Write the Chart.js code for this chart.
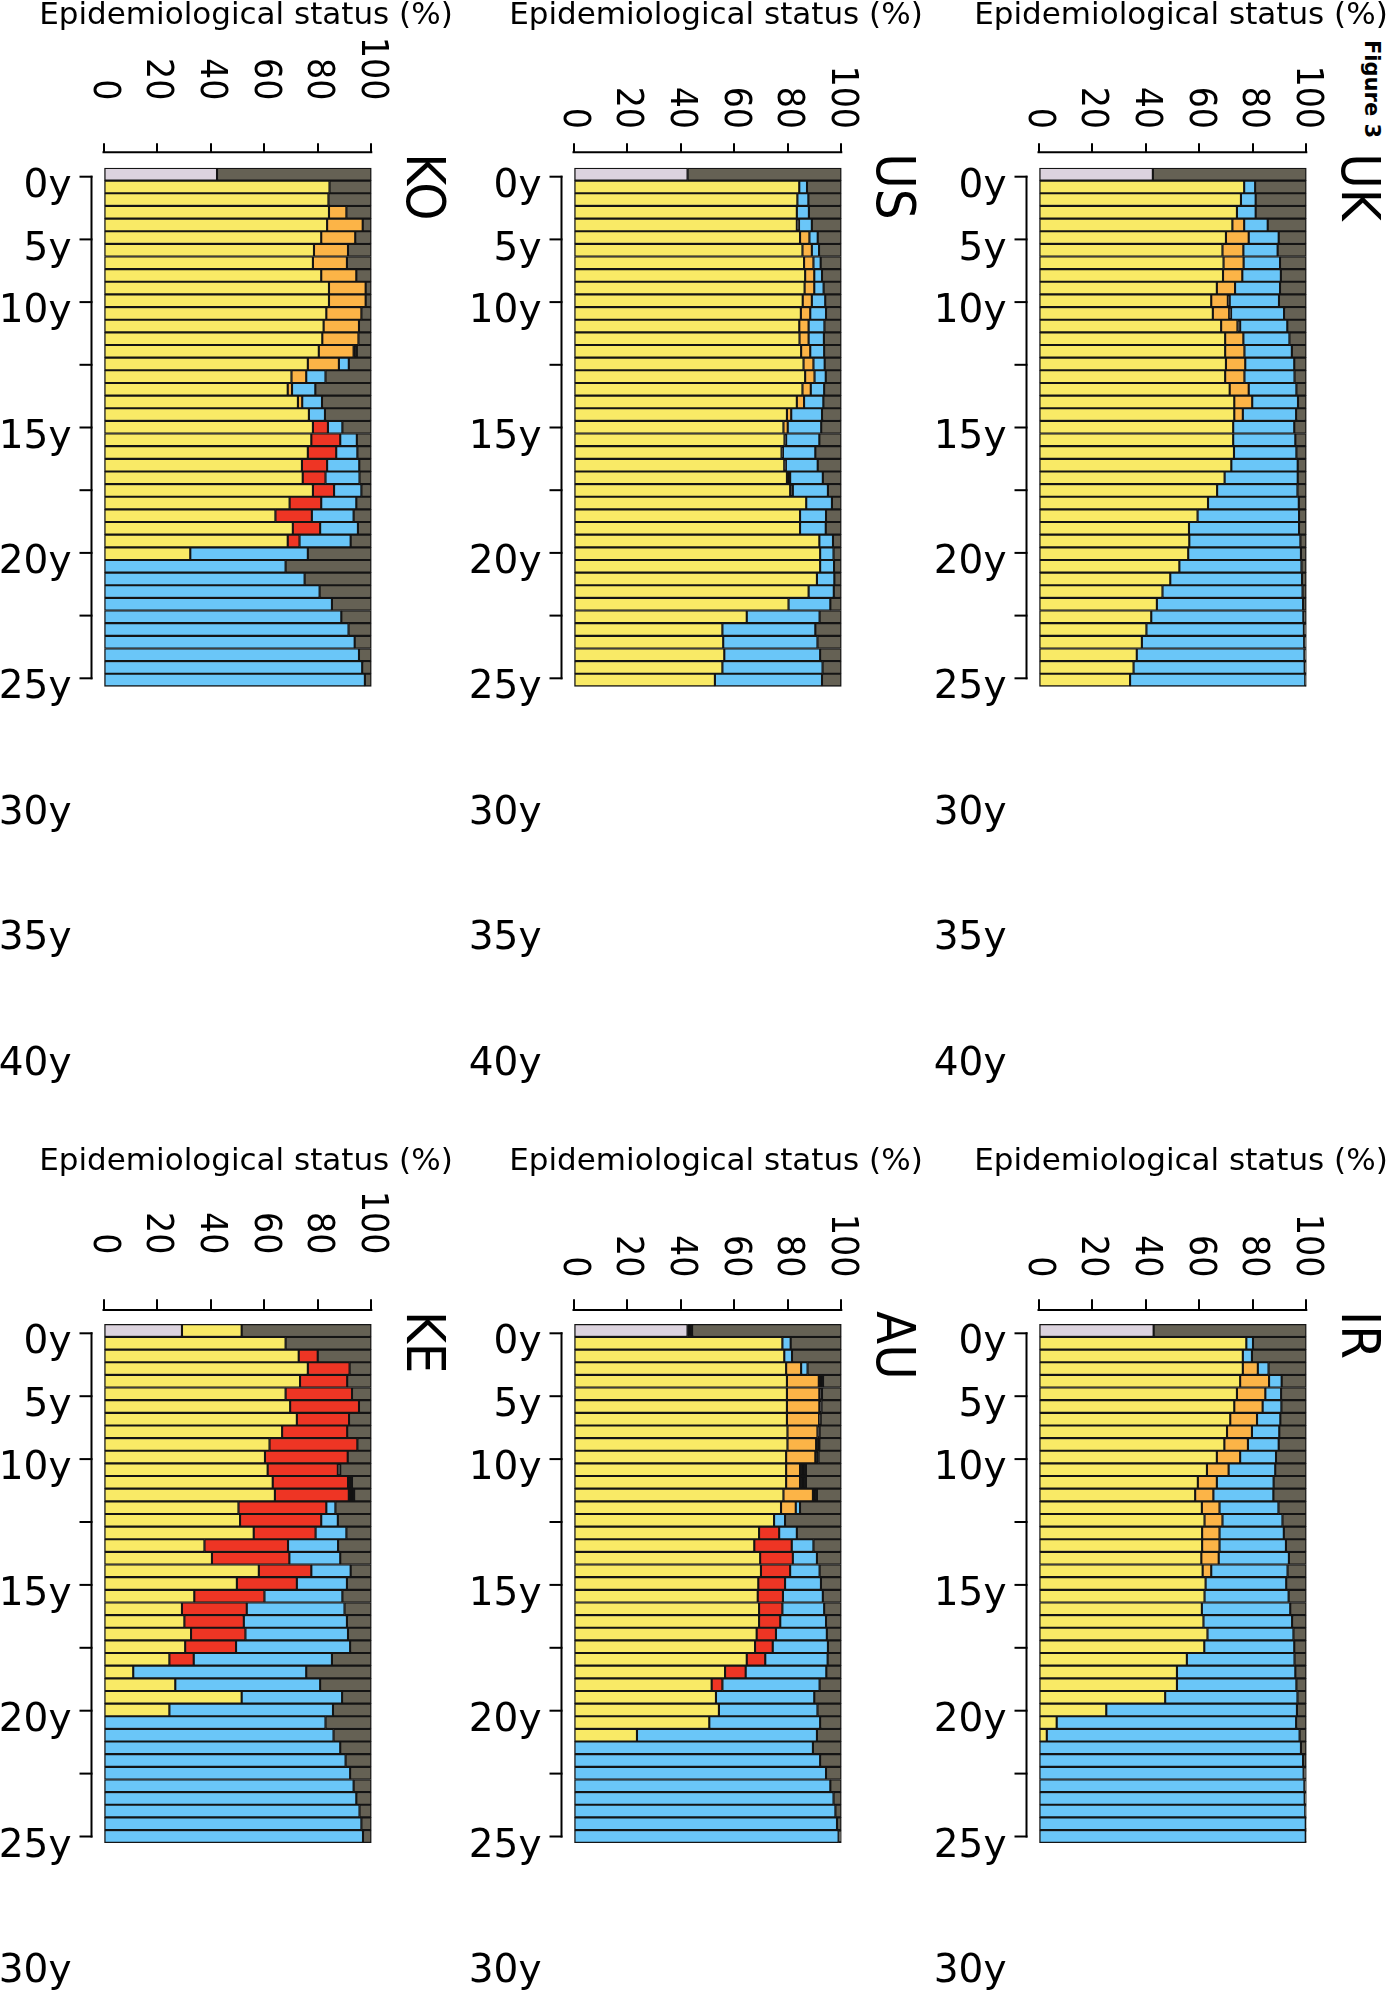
<!DOCTYPE html>
<html>
<head>
<meta charset="utf-8">
<script src="https://cdn.jsdelivr.net/npm/chart.js@4.4.1/dist/chart.umd.min.js"></script>
<style>
html,body{margin:0;padding:0;background:#fff;}
#page{position:relative;width:1400px;height:2000px;overflow:hidden;background:#fff;}
#page canvas{position:absolute;}
#fig{position:absolute;left:1359px;top:40px;writing-mode:vertical-rl;font-family:"DejaVu Sans",sans-serif;font-weight:bold;font-size:21px;line-height:26px;color:#000;}
</style>
</head>
<body>
<div id="page"><div id="fig">Figure 3</div></div>
<script>
// ---------------- DATA ----------------
const panelNames = ['KO', 'US', 'UK', 'KE', 'AU', 'IR'];
const xTickValues = [0, 20, 40, 60, 80, 100];
const ageTickPos = [0, 1, 2, 3, 4, 5, 6, 7, 8, 10, 12, 14];
const ageTickLabels = ['0y', '5y', '10y', '', '15y', '', '20y', '', '25y', '30y', '35y', '40y'];
const rowIndex = [0,1,2,3,4,5,6,7,8,9,10,11,12,13,14,15,16,17,18,19,20,21,22,23,24,25,26,27,28,29,30,31,32,33,34,35,36,37,38,39,40];
// header row (index 0) lavender share per panel, same order as panelNames
const lavenderHeader = [42.4, 42.6, 42.7, 29.3, 42.6, 43.0];

const KO_yellow = [0, 84.4,84.0,84.2,83.5,81.3,78.6,78.2,81.3,84.2,84.2, 83.2,82.2,81.7,80.4,76.3,70.2,68.8,72.6,76.7,78.2, 77.6,76.3,74.1,74.4,78.2,69.5,64.2,70.7,68.8,32.4, 0,0,0,0,0,0,0,0,0,0];
const KO_orange = [0, 0,0,6.5,13.3,12.7,12.7,12.7,13.1,13.7,13.7, 13.1,13.2,13.5,13.0,11.6,5.5,1.6,1.6,0,0, 0,0,0,0,0,0,0,0,0,0, 0,0,0,0,0,0,0,0,0,0];
const KO_red    = [0, 0,0,0,0,0,0,0,0,0,0, 0,0,0,0,0,0,0,0,0,5.6, 10.8,10.6,9.4,8.5,7.9,11.8,13.6,10.2,4.4,0, 0,0,0,0,0,0,0,0,0,0];
const KO_black  = [0, 0,0,0,0,0,0,0,0,0,0, 0,0,0,1.2,0,0,0,0,0,0, 0,0,0,0,0,0,0,0,0,0, 0,0,0,0,0,0,0,0,0,0];
const KO_blue   = [0, 0,0,0,0,0,0,0,0,0,0, 0,0,0,0,3.7,7.2,8.7,7.4,6.0,5.4, 6.2,7.9,12.0,12.7,10.2,13.1,15.6,14.1,19.1,43.9, 68.0,75.1,80.7,85.3,88.8,91.5,93.8,95.4,96.6,97.6];
const KO_gray   = [57.6, 15.6,16.0,9.3,3.2,6.0,8.7,9.1,5.6,2.1,2.1, 3.7,4.6,4.8,5.4,8.4,17.1,20.9,18.4,17.3,10.8, 5.4,5.2,4.5,4.4,3.7,5.6,6.6,5.0,7.7,23.7, 32.0,24.9,19.3,14.7,11.2,8.5,6.2,4.6,3.4,2.4];

const US_yellow = [0, 84.3,83.6,83.4,83.4,84.6,85.5,86.1,86.5,86.3,85.6, 84.9,84.3,84.4,85.0,85.9,86.5,85.5,83.4,79.7,78.4, 78.8,77.7,78.7,79.7,80.9,86.9,84.6,84.6,91.8,92.1, 92.1,90.9,87.8,80.3,64.7,55.6,55.9,56.3,55.6,52.8];
const US_orange = [0, 0,0,0,0,3.5,3.5,3.5,3.4,3.6,3.4, 3.5,3.5,3.4,3.4,3.7,3.5,3.1,2.7,1.6,1.6, 0,0,0,0,0,0,0,0,0,0, 0,0,0,0,0,0,0,0,0,0];
const US_red    = [0, 0,0,0,0,0,0,0,0,0,0, 0,0,0,0,0,0,0,0,0,0, 0,0,0,0,0,0,0,0,0,0, 0,0,0,0,0,0,0,0,0,0];
const US_black  = [0, 0,0,0,0.8,0,0,0,0,0,0, 0,0,0,0,0,0,0,0,0,0, 0.6,0.5,0.6,1.2,1.0,0,0,0,0,0, 0,0,0,0,0,0,0,0,0,0];
const US_blue   = [0, 2.9,4.1,4.5,4.8,3.1,2.7,2.7,2.9,3.5,5.0, 5.9,5.9,5.7,5.2,4.2,4.2,5.0,7.2,11.5,12.5, 12.4,12.1,11.9,12.2,13.1,9.6,9.7,9.6,5.1,5.0, 5.2,6.5,9.4,15.6,27.2,34.7,35.2,35.8,37.4,40.0];
const US_gray   = [57.4, 12.8,12.3,12.1,11.0,8.8,8.3,7.7,7.2,6.6,6.0, 5.7,6.3,6.5,6.4,6.2,5.8,6.4,6.7,7.2,7.5, 8.2,9.7,8.8,6.9,5.0,3.5,5.7,5.8,3.1,2.9, 2.7,2.6,2.8,4.1,8.1,9.7,8.9,7.9,7.0,7.2];

const UK_yellow = [0, 76.8,75.6,74.1,72.4,70.0,68.7,69.1,68.9,66.6,64.5, 65.1,68.2,69.7,69.7,70.0,69.7,71.4,73.1,73.1,72.7, 72.7,73.0,72.0,69.5,66.7,63.3,59.4,56.2,56.3,55.9, 52.6,49.2,46.3,44.2,42.1,40.3,38.6,36.7,35.5,34.2];
const UK_orange = [0, 0,0,0,4.4,8.5,7.8,7.5,7.2,6.8,6.2, 6.1,6.1,6.8,7.2,7.2,7.2,7.1,6.7,3.2,0, 0,0,0,0,0,0,0,0,0,0, 0,0,0,0,0,0,0,0,0,0];
const UK_red    = [0, 0,0,0,0,0,0,0,0,0,0, 0,0,0,0,0,0,0,0,0,0, 0,0,0,0,0,0,0,0,0,0, 0,0,0,0,0,0,0,0,0,0];
const UK_black  = [0, 0,0,0,0,0,0,0,0,0,0.7, 0.7,1.0,0,0,0,0,0,0,0,0, 0,0,0,0,0,0,0,0,0,0, 0,0,0,0,0,0,0,0,0,0];
const UK_blue   = [0, 4.1,5.5,7.0,8.8,11.2,12.8,13.6,14.4,16.8,18.4, 19.8,17.6,17.2,17.7,18.3,18.7,17.8,17.1,19.9,22.8, 23.2,23.3,24.8,27.3,30.0,33.9,37.9,41.1,41.5,42.1, 45.6,49.2,52.3,54.6,56.8,58.8,60.6,62.6,63.9,65.4];
const UK_gray   = [57.3, 19.1,18.9,18.9,14.4,10.3,10.7,9.8,9.5,9.8,10.2, 8.3,7.1,6.3,5.4,4.5,4.4,3.7,3.1,3.8,4.5, 4.1,3.7,3.2,3.2,3.3,2.8,2.7,2.7,2.2,2.0, 1.8,1.6,1.4,1.2,1.1,0.9,0.8,0.7,0.6,0.4];

const KE_yellow = [22.3, 68.0,72.9,76.3,73.4,68.0,69.7,72.2,66.7,62.0,60.3, 61.3,63.2,64.0,50.4,51.0,56.1,37.7,40.5,58.0,49.8, 33.9,29.3,30.2,32.7,30.5,24.6,11.1,26.8,51.6,24.6, 0,0,0,0,0,0,0,0,0,0];
const KE_orange = [0, 0,0,0,0,0,0,0,0,0,0, 0,0,0,0,0,0,0,0,0,0, 0,0,0,0,0,0,0,0,0,0, 0,0,0,0,0,0,0,0,0,0];
const KE_red    = [0, 0,7.1,15.6,17.6,24.8,25.7,19.5,24.3,32.8,30.9, 26.2,28.1,27.6,32.8,30.3,23.1,31.2,28.9,19.6,22.4, 26.2,24.2,22.2,20.3,19.0,9.1,0,0,0,0, 0,0,0,0,0,0,0,0,0,0];
const KE_black  = [0, 0,0,0,0,0,0,0,0,0,0, 0.9,1.5,2.0,0,0,0,0,0,0,0, 0,0,0,0,0,0,0,0,0,0, 0,0,0,0,0,0,0,0,0,0];
const KE_blue   = [0, 0,0,0,0,0,0,0,0,0,0, 0,0,0,3.4,6.2,11.5,18.7,19.0,14.7,18.7, 29.1,36.5,38.5,38.3,42.6,51.6,64.6,54.1,37.5,61.1, 82.9,85.9,88.4,90.4,92.1,93.4,94.4,95.6,96.3,96.9];
const KE_gray   = [48.4, 32.0,20.0,8.1,9.0,7.2,4.6,8.3,9.0,5.2,8.8, 11.6,7.2,6.4,13.4,12.5,9.3,12.4,11.6,7.7,9.1, 10.8,10.0,9.1,8.7,7.9,14.7,24.3,19.1,10.9,14.3, 17.1,14.1,11.6,9.6,7.9,6.6,5.6,4.4,3.7,3.1];

const AU_yellow = [0, 78.0,78.7,79.4,79.7,79.7,79.7,79.7,79.9,79.9,79.4, 79.4,79.4,78.4,77.5,74.9,69.3,67.5,69.7,70.0,69.0, 68.8,69.3,69.3,68.4,67.8,64.7,56.6,51.6,53.2,54.3, 50.7,23.7,0,0,0,0,0,0,0,0];
const AU_orange = [0, 0,0,5.6,11.9,12.1,12.1,12.0,11.2,10.7,10.9, 5.2,5.2,11.0,5.5,0,0,0,0,0,0, 0,0,0,0,0,0,0,0,0,0, 0,0,0,0,0,0,0,0,0,0];
const AU_red    = [0, 0,0,0,0,0,0,0,0,0,0, 0,0,0,0,0,7.5,14.0,12.2,10.9,10.0, 9.4,8.7,7.9,7.2,6.6,6.9,7.7,4.0,0,0, 0,0,0,0,0,0,0,0,0,0];
const AU_black  = [1.7, 0,0,0,1.6,1.0,0.8,0.6,0.8,1.2,1.2, 2.2,2.2,1.5,0,0,0,0,0,0,0, 0,0,0,0,0,0,0,0,0,0, 0,0,0,0,0,0,0,0,0,0];
const AU_blue   = [0, 3.1,2.9,2.4,0,0,0,0,0,0,0, 0,0,0,1.6,4.1,6.6,8.1,9.0,11.0,13.4, 14.9,15.6,17.1,19.0,20.6,23.3,30.1,36.3,36.7,36.8, 41.4,67.2,89.4,92.1,94.3,95.9,97.1,97.8,98.4,99.0];
const AU_gray   = [55.7, 18.9,18.4,12.6,6.8,7.2,7.4,7.7,8.1,8.2,8.5, 13.2,13.2,9.1,15.4,21.0,16.6,10.4,9.1,8.1,7.6, 6.9,6.4,5.7,5.4,5.0,5.1,5.6,8.1,10.1,8.9, 7.9,9.1,10.6,7.9,5.7,4.1,2.9,2.2,1.6,1.0];

const IR_yellow = [0, 77.6,76.3,76.3,75.3,74.1,73.1,71.6,70.4,69.4,66.6, 62.9,59.5,58.5,61.0,62.0,61.1,61.1,60.8,61.3,62.4, 62.0,61.0,61.6,63.1,61.9,55.4,51.7,51.7,47.3,25.3, 6.8,3.1,0,0,0,0,0,0,0,0];
const IR_orange = [0, 0,0,5.6,10.8,10.6,10.6,10.0,9.3,8.8,8.7, 8.1,7.1,6.8,6.6,6.7,6.5,6.5,6.5,3.2,0, 0,0,0,0,0,0,0,0,0,0, 0,0,0,0,0,0,0,0,0,0];
const IR_red    = [0, 0,0,0,0,0,0,0,0,0,0, 0,0,0,0,0,0,0,0,0,0, 0,0,0,0,0,0,0,0,0,0, 0,0,0,0,0,0,0,0,0,0];
const IR_black  = [0, 0,0,0,0,0,0,0,0,0,0, 0,0,0,0,0,0,0,0,0,0, 0,0,0,0,0,0,0,0,0,0, 0,0,0,0,0,0,0,0,0,0];
const IR_blue   = [0, 2.5,3.4,4.0,4.7,5.9,7.0,8.7,10.2,11.5,13.4, 17.4,21.2,22.4,22.0,22.4,24.0,24.8,26.2,28.5,30.1, 31.4,33.0,33.1,32.1,33.6,40.2,44.2,44.6,49.4,71.2, 89.4,94.4,98.0,98.8,99.0,99.3,99.4,99.6,99.8,99.8];
const IR_gray   = [57.0, 19.9,20.3,14.1,9.2,9.4,9.3,9.7,10.1,10.3,11.3, 11.6,12.2,12.3,10.4,8.9,8.4,7.6,6.5,7.0,7.5, 6.6,6.0,5.3,4.8,4.5,4.4,4.1,3.7,3.3,3.5, 3.8,2.5,2.0,1.2,1.0,0.7,0.6,0.4,0.2,0.2];

// ---------------- STYLE / LAYOUT ----------------
const COLORS = {lavender:'#dcd3de', yellow:'#f9ea66', orange:'#fcb447', red:'#ee3524', black:'#111111', blue:'#6ac6f8', gray:'#656154'};
const COL_LEFT = [0, 470, 935];
const CANVAS_W = 465;
const FRAME_LEFT = 103.5, FRAME_W = 267.8, AXIS_GAP = 11;
const PAD_RIGHT = -27, TITLE_SIZE = 54, TITLE_PAD = 44, XTITLE_SIZE = 31;
// gap between tick marks and the rotated 0-100 labels, per panel (KO, US, UK, KE, AU, IR)
const X_LABEL_GAP = [43, 14.3, 14.3, 45, 22, 22];
const ROW_GEOM = [
  {top:0,    h:1100, axisY:153.3, frameTop:168,   frameBot:686.4, age0:176.7, ageStep:62.7, tickLen:10,   titlePad:0,  nAgeTicks:12},
  {top:1130, h:870,  axisY:181,   frameTop:194.3, frameBot:712.7, age0:203.3, ageStep:62.9, tickLen:11.7, titlePad:16, nAgeTicks:10}
];
const FONT_H = '"DejaVu Sans", sans-serif';
const FONT_C = '"DejaVu Sans Condensed", "DejaVu Sans", sans-serif';

const series = {
  KO:{yellow:KO_yellow, orange:KO_orange, red:KO_red, black:KO_black, blue:KO_blue, gray:KO_gray},
  US:{yellow:US_yellow, orange:US_orange, red:US_red, black:US_black, blue:US_blue, gray:US_gray},
  UK:{yellow:UK_yellow, orange:UK_orange, red:UK_red, black:UK_black, blue:UK_blue, gray:UK_gray},
  KE:{yellow:KE_yellow, orange:KE_orange, red:KE_red, black:KE_black, blue:KE_blue, gray:KE_gray},
  AU:{yellow:AU_yellow, orange:AU_orange, red:AU_red, black:AU_black, blue:AU_blue, gray:AU_gray},
  IR:{yellow:IR_yellow, orange:IR_orange, red:IR_red, black:IR_black, blue:IR_blue, gray:IR_gray}
};

// plugin: pin scale ranges to the planned pixel geometry, then draw R-style axis lines / rotated labels
const rAxes = {
  id: 'rAxes',
  afterLayout(chart, args, o) {
    const xs = chart.scales.x, rs = chart.scales.rows, ag = chart.scales.age;
    xs.min = (xs.left - o.frameLeft) / o.pu;
    xs.max = (xs.right - o.frameLeft) / o.pu;
    xs.configure();
    const r0 = o.frameTop + o.rh / 2;
    rs.min = (rs.top - r0) / o.rh;
    rs.max = (rs.bottom - r0) / o.rh;
    rs.configure();
    ag.min = (ag.top - o.age0) / o.step;
    ag.max = (ag.bottom - o.age0) / o.step;
    ag.configure();
  },
  afterDraw(chart, args, o) {
    const {ctx} = chart;
    const xs = chart.scales.x, ag = chart.scales.age;
    ctx.save();
    ctx.strokeStyle = '#000';
    ctx.lineWidth = 2;
    const y0 = xs.bottom;
    ctx.beginPath();
    ctx.moveTo(xs.getPixelForValue(xTickValues[0]) - 1, y0 - 1);
    ctx.lineTo(xs.getPixelForValue(xTickValues[xTickValues.length - 1]) + 1, y0 - 1);
    ctx.stroke();
    const x0 = ag.right;
    ctx.beginPath();
    ctx.moveTo(x0 - 1, ag.getPixelForValue(ageTickPos[0]) - 1);
    ctx.lineTo(x0 - 1, ag.getPixelForValue(ageTickPos[8]) + 1);
    ctx.stroke();
    ageTickPos.slice(0, 9).forEach(v => {
      const py = ag.getPixelForValue(v);
      ctx.beginPath();
      ctx.moveTo(x0 - 1 - o.ageTickLen, py);
      ctx.lineTo(x0, py);
      ctx.stroke();
    });
    ctx.fillStyle = '#000';
    ctx.font = '37px ' + FONT_C;
    ctx.textAlign = 'right';
    ctx.textBaseline = 'middle';
    xTickValues.forEach(v => {
      ctx.save();
      ctx.translate(xs.getPixelForValue(v), y0 - o.tickLen - o.labelGap);
      ctx.rotate(Math.PI / 2);
      ctx.fillText(String(v), 0, 0);
      ctx.restore();
    });
    ctx.restore();
  }
};

const page = document.getElementById('page');
panelNames.forEach((name, p) => {
  const col = p % 3, row = Math.floor(p / 3);
  const g = ROW_GEOM[row];
  const cv = document.createElement('canvas');
  cv.width = CANVAS_W; cv.height = g.h;
  cv.style.left = COL_LEFT[col] + 'px';
  cv.style.top = g.top + 'px';
  page.appendChild(cv);

  const chartLeft = FRAME_LEFT - AXIS_GAP;
  const chartRight = CANVAS_W - PAD_RIGHT - TITLE_PAD - TITLE_SIZE;
  const pu = FRAME_W / 100;
  const rh = (g.frameBot - g.frameTop) / rowIndex.length;
  const s = series[name];
  const lav = rowIndex.map(i => i === 0 ? lavenderHeader[p] : 0);
  const defs = [
    ['lavender', lav], ['yellow', s.yellow], ['orange', s.orange], ['red', s.red],
    ['black', s.black], ['blue', s.blue], ['gray', s.gray]
  ];
  const datasets = defs.map(([k, arr]) => ({
    label: k, data: arr, backgroundColor: COLORS[k],
    borderColor: '#141414', borderWidth: 1.4, borderSkipped: false,
    barPercentage: 1, categoryPercentage: 1,
    xAxisID: 'x', yAxisID: 'rows'
  }));
  const agePos = ageTickPos.slice(0, g.nAgeTicks);

  new Chart(cv, {
    type: 'bar',
    data: {labels: rowIndex, datasets},
    options: {
      indexAxis: 'y',
      responsive: false,
      animation: false,
      devicePixelRatio: 1,
      events: [],
      layout: {padding: {left: 0, top: 0, right: PAD_RIGHT, bottom: 0}},
      plugins: {
        legend: {display: false},
        tooltip: {enabled: false},
        title: {
          display: true, text: 'Epidemiological status (%)', position: 'top', align: 'center', fullSize: true,
          color: '#000', padding: {top: g.titlePad, bottom: 0},
          font: {family: FONT_H, size: XTITLE_SIZE, weight: 'normal', lineHeight: 1}
        },
        subtitle: {
          display: true, text: name, position: 'right', align: 'start', fullSize: false,
          color: '#000', padding: {top: TITLE_PAD, bottom: 0},
          font: {family: FONT_C, size: TITLE_SIZE, weight: 'normal', lineHeight: 1}
        },
        rAxes: {
          frameLeft: FRAME_LEFT, pu: pu, frameTop: g.frameTop, rh: rh, age0: g.age0, step: g.ageStep,
          tickLen: g.tickLen, labelGap: X_LABEL_GAP[p], ageTickLen: 12
        }
      },
      scales: {
        x: {
          type: 'linear', position: 'top', stacked: true, offset: false,
          min: (chartLeft - FRAME_LEFT) / pu,
          max: (chartRight - FRAME_LEFT) / pu,
          afterBuildTicks: sc => { sc.ticks = xTickValues.map(v => ({value: v})); },
          afterFit: sc => { sc.height = g.axisY - (XTITLE_SIZE + g.titlePad); },
          ticks: {display: false},
          grid: {drawOnChartArea: false, drawTicks: true, tickLength: g.tickLen, color: '#000', lineWidth: 2},
          border: {display: false},
          title: {display: false}
        },
        rows: {
          type: 'linear', position: 'left', reverse: true, stacked: true, display: false, offset: false,
          grid: {offset: false},
          min: -0.5 - (g.frameTop - g.axisY) / rh,
          max: -0.5 + (g.h - g.frameTop) / rh,
          afterFit: sc => { sc.width = 0; }
        },
        age: {
          type: 'linear', position: 'left', reverse: true, offset: false,
          min: -(g.age0 - g.axisY) / g.ageStep,
          max: (g.h - g.age0) / g.ageStep,
          afterBuildTicks: sc => { sc.ticks = agePos.map(v => ({value: v})); },
          afterFit: sc => { sc.width = chartLeft; },
          ticks: {
            autoSkip: false, color: '#000', padding: 21, labelOffset: 10,
            font: {family: FONT_H, size: 39, lineHeight: 0.2},
            callback: (v, i) => ageTickLabels[i]
          },
          grid: {display: false, drawOnChartArea: false, drawTicks: false, offset: false},
          border: {display: false}
        }
      }
    },
    plugins: [rAxes]
  });
});
</script>
</body>
</html>
